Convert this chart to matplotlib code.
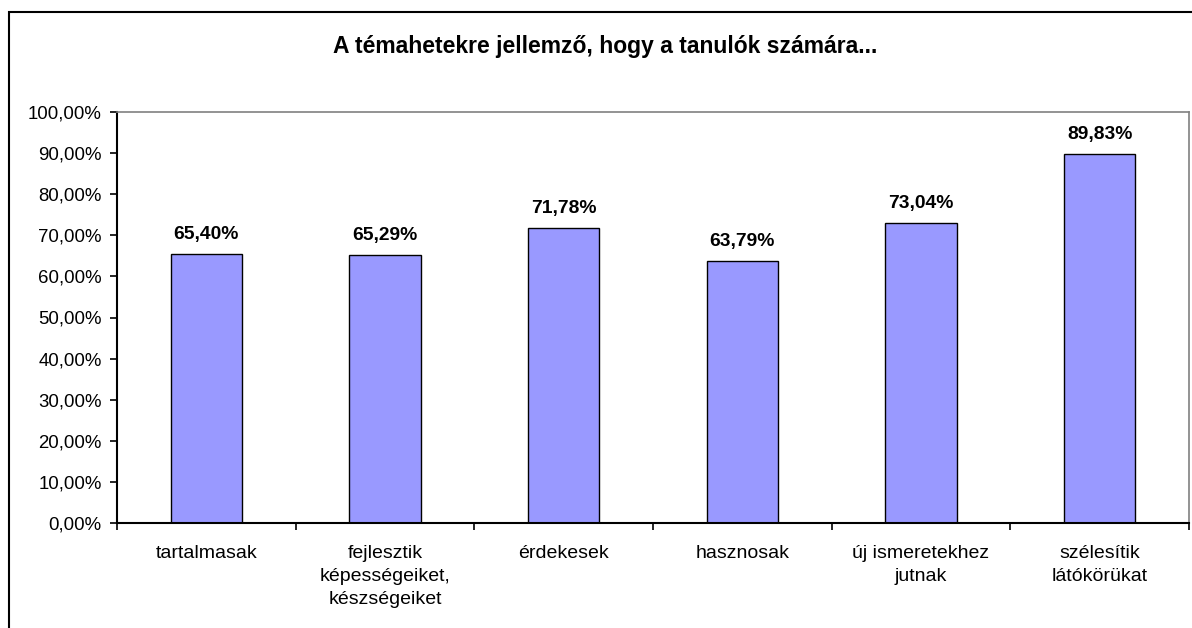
import matplotlib
matplotlib.use("Agg")
import matplotlib.pyplot as plt
from matplotlib.patches import Rectangle
from matplotlib.ticker import FuncFormatter, MultipleLocator

categories = ["tartalmasak", "fejlesztik\nképességeiket,\nkészségeiket", "érdekesek",
              "hasznosak", "új ismeretekhez\njutnak", "szélesítik\nlátókörükat"]
values = [65.40, 65.29, 71.78, 63.79, 73.04, 89.83]
title = "A témahetekre jellemző, hogy a tanulók számára..."

plt.rcParams['font.family'] = ['Liberation Sans', 'DejaVu Sans']

W, H = 1192, 628
fig = plt.figure(figsize=(W / 100, H / 100), dpi=100)

# outer chart frame
fig.patches.append(Rectangle((9 / W, -0.05), 1.2, (H - 12) / H + 0.05, transform=fig.transFigure,
                             fill=False, edgecolor='black', linewidth=1.5))

left, right, top, bottom = 117, 1189, 112, 523
ax = fig.add_axes([left / W, 1 - bottom / H, (right - left) / W, (bottom - top) / H])

x = list(range(len(categories)))
ax.bar(x, values, width=0.4, color='#9999FF', edgecolor='black', linewidth=1.0)
for xi, v in zip(x, values):
    ax.annotate(f"{v:.2f}%".replace('.', ','), (xi, v), xytext=(0, 10.8),
                textcoords='offset points', ha='center', va='baseline',
                fontsize=13.9, fontweight='bold')

ax.set_xlim(-0.5, len(categories) - 0.5)
ax.set_ylim(0, 100)
ax.yaxis.set_major_locator(MultipleLocator(10))
ax.yaxis.set_major_formatter(FuncFormatter(lambda v, p: f"{v:.2f}%".replace('.', ',')))
ax.tick_params(axis='y', direction='out', length=5, width=1.2, labelsize=13.4, pad=6, color='black')

ax.set_xticks([i - 0.5 for i in range(len(categories) + 1)], minor=False)
ax.set_xticklabels([])
ax.set_xticks(x, minor=True)
ax.set_xticklabels(categories, minor=True, fontsize=14, linespacing=1.47)
ax.tick_params(axis='x', which='major', direction='out', length=5, width=1.2, color='black')
ax.tick_params(axis='x', which='minor', length=0, pad=16)

for s in ['top', 'right']:
    ax.spines[s].set_color('#808080')
    ax.spines[s].set_linewidth(1.2)
for s in ['left', 'bottom']:
    ax.spines[s].set_color('black')
    ax.spines[s].set_linewidth(1.5)

fig.text(605 / W, 1 - 53 / H, title, ha='center', va='baseline', fontsize=16.5, fontweight='bold')

fig.savefig("out.png", dpi=100)
